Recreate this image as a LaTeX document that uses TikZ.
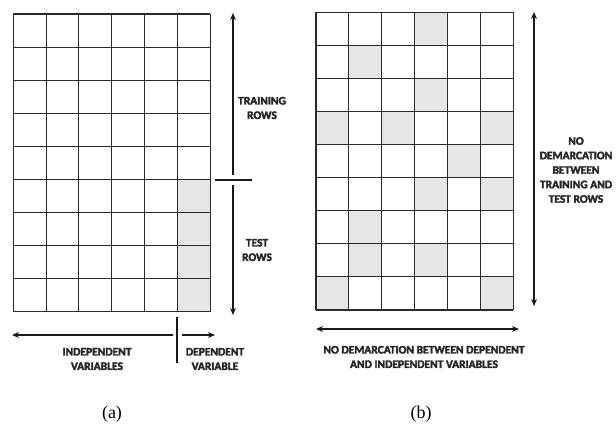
\documentclass[tikz,border=0pt]{standalone}
\usepackage{fontspec}
\setmainfont{Carlito}
\newfontfamily\lblfont{Carlito}[BoldFeatures={FakeBold=3}]
\newfontfamily\capfont{Liberation Serif}
\usetikzlibrary{arrows.meta}
\definecolor{cellgray}{HTML}{E6E6E6}
\definecolor{gridline}{HTML}{2A2A2A}
\tikzset{
  gridstroke/.style={draw=gridline, line width=1.1pt},
  dimarrow/.style={draw=black!90, line width=1.8pt, -{Stealth[length=7pt,width=6pt]}},
  dimline/.style={draw=black!90, line width=1.5pt},
  lbl/.style={font=\lblfont\bfseries\fontsize{11.5}{14.5}\selectfont, text=black!85, align=center, inner sep=0pt},
  caplbl/.style={font=\capfont\fontsize{18}{20}\selectfont, inner sep=0pt}
}
\begin{document}
\begin{tikzpicture}[x=1pt,y=-1pt]
\useasboundingbox (0,0) rectangle (616,424);
% ---------- left grid (a) ----------
\def\lx{13.3}\def\ly{14}\def\cw{32.8}\def\rh{33.1}
\foreach \r in {5,6,7,8}{
  \fill[cellgray] ({\lx+5*\cw},{\ly+\r*\rh}) rectangle ++(\cw,\rh);
}
\foreach \i in {0,...,6}{
  \draw[gridstroke] ({\lx+\i*\cw},\ly) -- ({\lx+\i*\cw},{\ly+9*\rh});
}
\foreach \j in {0,...,9}{
  \draw[gridstroke] (\lx,{\ly+\j*\rh}) -- ({\lx+6*\cw},{\ly+\j*\rh});
}
% ---------- right grid (b) ----------
\def\rx{316}\def\ry{12.3}\def\cwb{32.9}\def\rhb{33.08}
\foreach \c/\r in {3/0,1/1,3/2,0/3,2/3,5/3,4/4,3/5,5/5,1/6,1/7,3/7,0/8,5/8}{
  \fill[cellgray] ({\rx+\c*\cwb},{\ry+\r*\rhb}) rectangle ++(\cwb,\rhb);
}
\foreach \i in {0,...,6}{
  \draw[gridstroke] ({\rx+\i*\cwb},\ry) -- ({\rx+\i*\cwb},{\ry+9*\rhb});
}
\foreach \j in {0,...,9}{
  \draw[gridstroke] (\rx,{\ry+\j*\rhb}) -- ({\rx+6*\cwb},{\ry+\j*\rhb});
}
% ---------- (a) annotations ----------
\coordinate (trTop) at (233,13);
\coordinate (trBot) at (233,175);
\coordinate (teTop) at (233,185);
\coordinate (teBot) at (233,315);
\coordinate (sepL) at (215,180);
\coordinate (sepR) at (252,180);
\draw[dimarrow] (trBot) -- (trTop);
\draw[dimarrow] (teTop) -- (teBot);
\draw[dimline] (sepL) -- (sepR);
\node[lbl] (train) at (262,108) {TRAINING\\ROWS};
\node[lbl] (test) at (257,250) {TEST\\ROWS};

\coordinate (indR) at (173,335);
\coordinate (indL) at (12,335);
\coordinate (depL) at (182,335);
\coordinate (depR) at (215,335);
\coordinate (vsepT) at (177,317);
\coordinate (vsepB) at (177,363);
\draw[dimarrow] (indR) -- (indL);
\draw[dimarrow] (depL) -- (depR);
\draw[dimline] (vsepT) -- (vsepB);
\node[lbl] (indep) at (97,359) {INDEPENDENT\\VARIABLES};
\node[lbl] (dep) at (215,359) {DEPENDENT\\VARIABLE};
\node[caplbl] (capa) at (112,414) {(a)};
% ---------- (b) annotations ----------
\coordinate (bTop) at (534,12);
\coordinate (bBot) at (534,306);
\draw[dimarrow, {Stealth[length=7pt,width=6pt]}-{Stealth[length=7pt,width=6pt]}] (bTop) -- (bBot);
\node[lbl] (nodem) at (576,170) {NO\\DEMARCATION\\BETWEEN\\TRAINING AND\\TEST ROWS};
\coordinate (hL) at (316,329);
\coordinate (hR) at (519,329);
\draw[dimarrow, {Stealth[length=7pt,width=6pt]}-{Stealth[length=7pt,width=6pt]}] (hL) -- (hR);
\node[lbl] (nodemb) at (424,357) {NO DEMARCATION BETWEEN DEPENDENT\\AND INDEPENDENT VARIABLES};
\node[caplbl] (capb) at (421,414) {(b)};
\end{tikzpicture}
\end{document}
